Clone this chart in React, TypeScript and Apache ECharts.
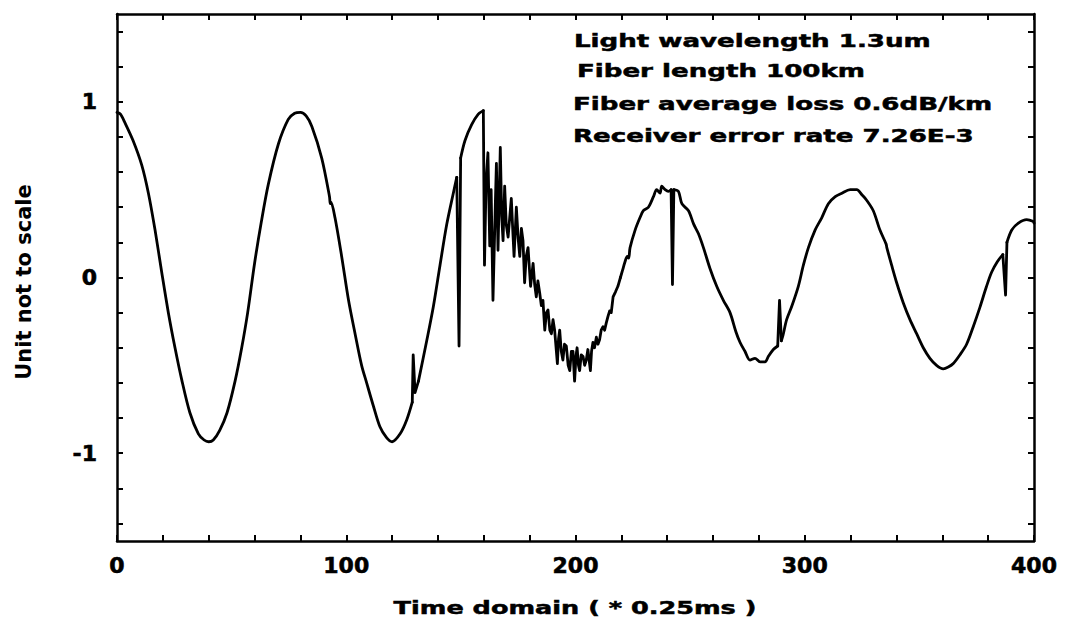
import React, { useEffect, useRef } from "react";
import * as echarts from "echarts";

// Smooth oscillation, 0 - 128.8 (time, amplitude)
const wave1: [number, number][] = [
  [0, 0.94], [1.5, 0.93], [3.5, 0.88], [7, 0.78], [10.8, 0.64], [13.7, 0.48], [16.6, 0.27],
  [19.5, 0.03], [22.4, -0.2], [25.3, -0.4], [28.2, -0.58], [31.8, -0.77], [35.5, -0.89],
  [38, -0.925], [40, -0.935], [42, -0.925], [44.8, -0.87], [48, -0.77], [51.5, -0.59],
  [54.4, -0.4], [57, -0.2], [60, 0.08], [63, 0.32], [66, 0.53], [70.4, 0.76], [74.7, 0.9],
  [77.5, 0.935], [80, 0.94], [82.5, 0.92], [85, 0.86], [89.3, 0.68], [92.7, 0.46], [93.0, 0.42],
  [93.3, 0.43], [95.1, 0.34], [98, 0.12], [101, -0.13], [104, -0.33], [106.7, -0.5],
  [108.9, -0.6], [111.8, -0.73], [114.7, -0.85], [117.5, -0.91], [120, -0.935], [123.5, -0.89],
  [126.4, -0.81], [128.8, -0.71],
];
const spike130: [number, number][] = [[128.8, -0.71], [129.2, -0.44], [130, -0.655], [131.5, -0.59]];
const wave2: [number, number][] = [
  [131.5, -0.59], [135.1, -0.36], [138, -0.165], [140.9, 0.07], [143.8, 0.3], [146.7, 0.48], [148.2, 0.57],
];
const spike150: [number, number][] = [[148.2, 0.57], [149.2, -0.39], [149.9, 0.68]];
const wave3: [number, number][] = [[149.9, 0.68], [151.8, 0.78], [154.7, 0.87], [157.6, 0.93], [159.8, 0.95]];

// Heavy noise burst 160 - 219
const burst: [number, number][] = [
  [159.8, 0.95], [160.3, 0.07], [161.0, 0.55], [161.8, 0.71], [162.6, 0.18], [163.2, 0.5], [164.0, -0.13],
  [165.0, 0.4], [165.5, 0.65], [166.2, 0.155], [167.2, 0.74], [167.8, 0.35], [168.4, 0.21],
  [169.1, 0.52], [169.8, 0.3], [170.6, 0.23], [172.0, 0.45], [172.6, 0.28], [173.2, 0.12],
  [174.2, 0.4], [175.0, 0.22], [175.7, 0.12], [176.4, 0.28], [177.1, 0.21], [177.8, -0.03],
  [178.5, 0.12], [179.3, 0.17], [180.4, -0.05], [181.5, 0.08], [182.2, -0.04], [182.9, -0.11],
  [183.6, -0.02], [184.4, -0.09], [185.1, -0.16], [185.8, -0.13], [186.6, -0.3], [187.3, -0.2],
  [188.0, -0.185], [188.8, -0.3], [189.5, -0.32], [190.2, -0.24], [190.9, -0.3], [192.1, -0.49],
  [192.6, -0.35], [193.1, -0.3], [193.8, -0.42], [194.5, -0.47], [195.2, -0.38], [196.0, -0.39],
  [196.8, -0.5], [197.5, -0.53], [198.2, -0.42], [198.9, -0.42], [199.6, -0.59], [200.2, -0.45],
  [200.7, -0.4], [201.3, -0.5], [201.8, -0.53], [202.5, -0.44], [203.3, -0.45], [204.0, -0.5],
  [204.7, -0.47], [205.4, -0.41], [206.5, -0.53], [207.0, -0.42], [207.6, -0.37], [208.3, -0.4],
  [209.1, -0.34], [209.8, -0.38], [210.5, -0.355], [211.2, -0.3], [212.0, -0.28], [212.7, -0.3],
  [213.4, -0.26], [214.2, -0.22], [214.9, -0.19], [215.6, -0.2], [216.4, -0.11], [217.5, -0.08],
  [218.5, -0.05], [219.6, 0.0],
];

// Attenuated oscillation 219 - 400 with isolated spikes
const wave4: [number, number][] = [
  [219.6, 0.0], [220.5, 0.04], [221.6, 0.09], [222.6, 0.12], [223.2, 0.11], [223.8, 0.17],
  [226, 0.27], [228.1, 0.34], [229.6, 0.38], [231.8, 0.4], [234, 0.46], [235.4, 0.5],
  [236.9, 0.48], [237.6, 0.52], [239.1, 0.5], [240.5, 0.49], [241.7, 0.5],
];
const spike242: [number, number][] = [[241.7, 0.5], [242.3, -0.04], [242.9, 0.5]];
const wave5: [number, number][] = [
  [242.9, 0.5], [244.9, 0.49], [246.4, 0.42], [249.3, 0.38], [251.5, 0.305], [253.6, 0.25],
  [255.8, 0.17], [258.7, 0.05], [261.6, -0.05], [264.5, -0.13], [267.4, -0.2], [270, -0.31],
  [271.8, -0.37], [273.9, -0.42], [276.1, -0.47], [278.3, -0.46], [280.5, -0.48], [282.7, -0.48],
  [284.1, -0.45], [286.3, -0.41], [288.2, -0.39],
];
const spike289: [number, number][] = [[288.2, -0.39], [289, -0.13], [289.8, -0.36]];
const wave6: [number, number][] = [
  [289.8, -0.36], [290.5, -0.33],
  [292.1, -0.24], [294.3, -0.165], [297.2, -0.05], [299.4, 0.07], [301.6, 0.17], [304.5, 0.27],
  [307.4, 0.34], [310.3, 0.42], [313.3, 0.46], [316.2, 0.48], [319.8, 0.5], [322.7, 0.5],
  [325, 0.47], [327, 0.44], [329.9, 0.38], [332.8, 0.27], [335.5, 0.19], [335.8, 0.17],
  [337.9, 0.07], [340.1, -0.03], [343, -0.145], [345.9, -0.24], [348.8, -0.32], [351.7, -0.4],
  [354.6, -0.46], [357.5, -0.5], [360.4, -0.52], [362.6, -0.51], [364.8, -0.49], [367.7, -0.44],
  [370.6, -0.38], [373.5, -0.28], [376.4, -0.17], [379.3, -0.05], [381.5, 0.03], [384, 0.09],
  [386.4, 0.13],
];
const spike387: [number, number][] = [[386.4, 0.13], [387.6, -0.1], [388.2, 0.2]];
const wave7: [number, number][] = [[388.2, 0.2], [390.3, 0.27], [393.2, 0.31], [396.8, 0.33], [399.5, 0.32], [400, 0.31]];

const smoothPieces = [wave1, wave2, wave3, wave4, wave5, wave6, wave7];
const sharpPieces = [spike130, spike150, burst, spike242, spike289, spike387];

const yTickValues = [-1.4, -1.2, -1.0, -0.8, -0.6, -0.4, -0.2, 0, 0.2, 0.4, 0.6, 0.8, 1.0, 1.2, 1.4];
const yLabelValues = [-1, 0, 1];
const annotations = [
  "Light wavelength 1.3um",
  "Fiber length 100km",
  "Fiber average loss 0.6dB/km",
  "Receiver error rate 7.26E-3",
];
const xTitle = "Time domain ( * 0.25ms )";
const yTitle = "Unit not to scale";

const FONT = '"DejaVu Sans", sans-serif';

export default function App() {
  const ref = useRef<HTMLDivElement>(null);

  useEffect(() => {
    document.body.style.margin = "0";
    if (!ref.current) return;
    const chart = echarts.init(ref.current, undefined, { renderer: "svg" });

    const axisLine = { show: true, onZero: false, lineStyle: { color: "#000", width: 2.5 } };
    const tickStyle = { color: "#000", width: 2 };
    const lineStyle = { color: "#000", width: 2.8, join: "round", cap: "round" };

    const annoPos = [
      [574, 41],
      [577, 71],
      [573, 104],
      [573, 136],
    ];

    const series = [
      ...smoothPieces.map((d) => ({
        type: "line",
        data: d,
        smooth: 0.3,
        showSymbol: false,
        symbol: "none",
        lineStyle,
        z: 3,
      })),
      ...sharpPieces.map((d) => ({
        type: "line",
        data: d,
        smooth: false,
        showSymbol: false,
        symbol: "none",
        lineStyle,
        z: 3,
      })),
    ];

    const labelStyle = {
      color: "#000",
      fontSize: 22,
      fontWeight: "bold",
      fontFamily: FONT,
      textBorderColor: "#000",
      textBorderWidth: 0.6,
    };

    chart.setOption({
      animation: false,
      backgroundColor: "#fff",
      grid: { left: 117, right: 35, top: 14, bottom: 84, outerBoundsMode: "none" },
      xAxis: [
        {
          type: "value",
          position: "bottom",
          min: 0,
          max: 400,
          interval: 20,
          axisLine,
          axisTick: { show: true, inside: true, length: 6, lineStyle: tickStyle },
          axisLabel: {
            show: true,
            margin: 13,
            ...labelStyle,
            showMinLabel: true,
            showMaxLabel: true,
            formatter: (v: number) => (Math.round(v) % 100 === 0 ? String(Math.round(v)) : ""),
          },
          splitLine: { show: false },
        },
        {
          type: "value",
          position: "top",
          min: 0,
          max: 400,
          interval: 20,
          axisLine,
          axisTick: { show: true, inside: true, length: 6, lineStyle: tickStyle },
          axisLabel: { show: false },
          splitLine: { show: false },
        },
      ],
      yAxis: [
        {
          type: "value",
          position: "left",
          min: -1.5,
          max: 1.5,
          axisLine,
          axisTick: { show: true, inside: true, length: 6, lineStyle: tickStyle, customValues: yTickValues },
          axisLabel: {
            show: true,
            customValues: yLabelValues,
            margin: 20,
            ...labelStyle,
            formatter: (v: number) => String(Math.round(v)),
          },
          splitLine: { show: false },
        },
        {
          type: "value",
          position: "right",
          min: -1.5,
          max: 1.5,
          axisLine,
          axisTick: { show: true, inside: true, length: 6, lineStyle: tickStyle, customValues: yTickValues },
          axisLabel: { show: false },
          splitLine: { show: false },
        },
      ],
      series,
      graphic: [
        ...annotations.map((t, i) => ({
          type: "text",
          x: annoPos[i][0],
          y: annoPos[i][1],
          scaleX: 1.45,
          style: {
            text: t,
            font: `bold 18px ${FONT}`,
            fill: "#000",
            stroke: "#000",
            lineWidth: 0.5,
            verticalAlign: "middle",
            align: "left",
          },
          z: 10,
        })),
        {
          type: "text",
          x: 575,
          y: 607,
          scaleX: 1.42,
          style: {
            text: xTitle,
            font: `bold 18px ${FONT}`,
            fill: "#000",
            stroke: "#000",
            lineWidth: 0.5,
            align: "center",
            verticalAlign: "middle",
          },
        },
        {
          type: "text",
          x: 24,
          y: 282,
          rotation: Math.PI / 2,
          style: {
            text: yTitle,
            font: `bold 21px ${FONT}`,
            fill: "#000",
            align: "center",
            verticalAlign: "middle",
          },
        },
      ],
    });

    return () => chart.dispose();
  }, []);

  return <div ref={ref} style={{ width: 1069, height: 625 }} />;
}
